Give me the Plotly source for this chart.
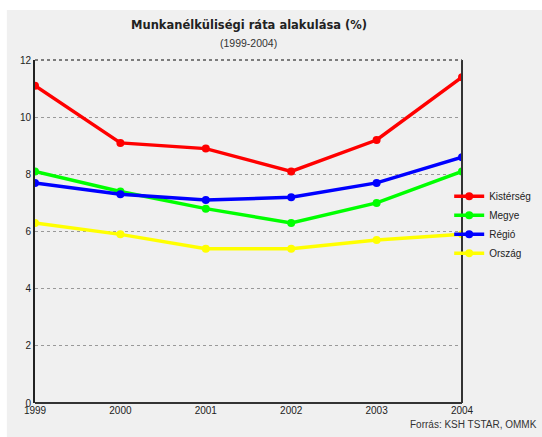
import plotly.graph_objects as go

years = [1999, 2000, 2001, 2002, 2003, 2004]
kisterseg = [11.1, 9.1, 8.9, 8.1, 9.2, 11.4]
megye = [8.1, 7.4, 6.8, 6.3, 7.0, 8.1]
regio = [7.7, 7.3, 7.1, 7.2, 7.7, 8.6]
orszag = [6.3, 5.9, 5.4, 5.4, 5.7, 5.9]

series = [("Kistérség", kisterseg, "#ff0000"),
          ("Megye", megye, "#00ff00"),
          ("Régió", regio, "#0000ff"),
          ("Ország", orszag, "#ffff00")]

fig = go.Figure()
for name, vals, col in series:
    fig.add_trace(go.Scatter(x=years, y=vals, name=name, mode="lines+markers",
                             line=dict(color=col, width=3.5),
                             marker=dict(color=col, size=8)))

# grey panel behind everything
fig.add_shape(type="rect", xref="paper", yref="paper", x0=-0.066, x1=1.2, y0=-0.11, y1=1.146,
              fillcolor="#f0f0f0", line_width=0, layer="below")
# right border and top line of plot
fig.add_shape(type="line", xref="paper", yref="paper", x0=1, x1=1, y0=0, y1=1,
              line=dict(color="#333333", width=2))
fig.add_shape(type="line", xref="paper", yref="paper", x0=0, x1=1, y0=1, y1=1,
              line=dict(color="#555555", width=1.5, dash="dot"))

fig.add_annotation(text="<b>Munkanélküliségi ráta alakulása (%)</b>", xref="paper", yref="paper",
                   x=0.501, y=1.102, yanchor="middle", showarrow=False,
                   font=dict(family="DejaVu Sans", size=11.5, color="#222222"))
fig.add_annotation(text="(1999-2004)", xref="paper", yref="paper",
                   x=0.501, y=1.05, yanchor="middle", showarrow=False,
                   font=dict(size=10.5, color="#333333"))
fig.add_annotation(text="Forrás: KSH TSTAR, OMMK", xref="paper", yref="paper",
                   x=1.181, y=-0.064, xanchor="right", yanchor="middle", showarrow=False,
                   font=dict(size=10, color="#333333"))

fig.update_layout(
    width=542, height=437,
    margin=dict(l=35, r=80, t=60, b=34, autoexpand=False),
    paper_bgcolor="white", plot_bgcolor="rgba(0,0,0,0)",
    font=dict(family="Liberation Sans", size=10, color="#222222"),
    showlegend=True,
    legend=dict(x=0.97, y=0.52, xanchor="left", yanchor="middle", bgcolor="rgba(0,0,0,0)",
                font=dict(size=10), itemwidth=30, tracegroupgap=0),
)
fig.update_xaxes(range=[1999, 2004], tickvals=years, showgrid=False, zeroline=False,
                 showline=False, ticks="", tickfont=dict(size=10))
fig.update_yaxes(range=[0, 12], tickvals=[0, 2, 4, 6, 8, 10, 12], showgrid=True,
                 gridcolor="#999999", griddash="dot", gridwidth=1, zeroline=True,
                 zerolinecolor="#333333", zerolinewidth=2, showline=True, linecolor="#222222",
                 linewidth=2, ticks="", tickfont=dict(size=10))

# drop the browser's default page margin so the figure sits at the window corner
fig.write_html("out.html", config={"displayModeBar": False},
               post_script="document.body.style.margin='0px';")
